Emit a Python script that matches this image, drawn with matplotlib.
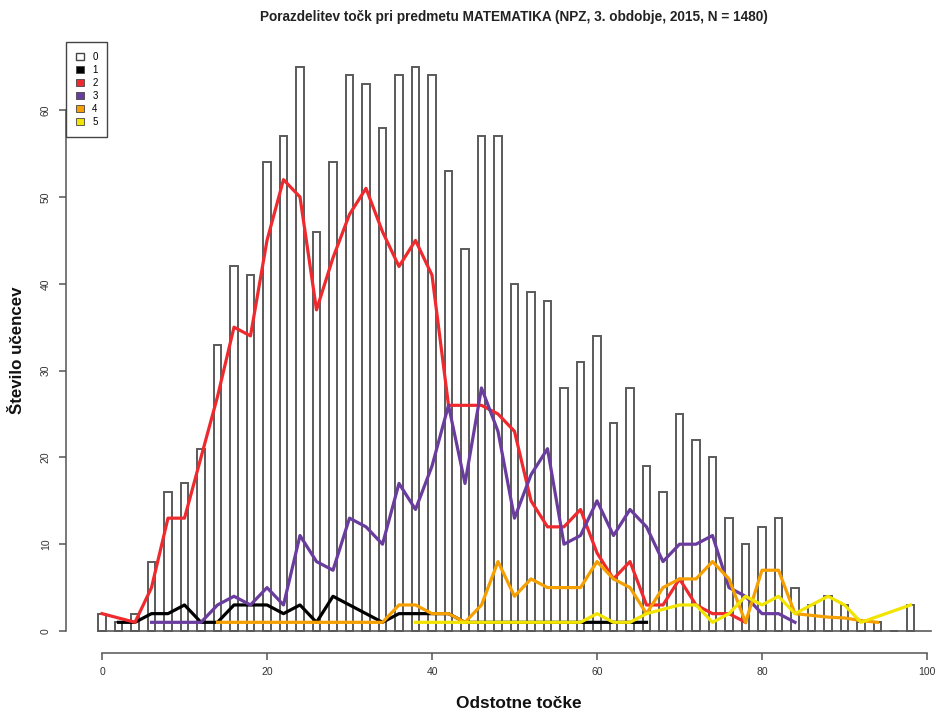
import matplotlib
matplotlib.use("Agg")
import matplotlib.pyplot as plt
from matplotlib.patches import Patch

# Score in percent (bar positions) and number of pupils per score
score_pct = [0, 2, 4, 6, 8, 10, 12, 14, 16, 18, 20, 22, 24, 26, 28, 30, 32, 34, 36, 38,
             40, 42, 44, 46, 48, 50, 52, 54, 56, 58, 60, 62, 64, 66, 68, 70, 72, 74, 76, 78,
             80, 82, 84, 86, 88, 90, 92, 94, 96, 98]
pupils_all = [2, 1, 2, 8, 16, 17, 21, 33, 42, 41, 54, 57, 65, 46, 54, 64, 63, 58, 64, 65,
              64, 53, 44, 57, 57, 40, 39, 38, 28, 31, 34, 24, 28, 19, 16, 25, 22, 20, 13, 10,
              12, 13, 5, 3, 4, 3, 1, 1, 0, 3]

# Pupils per score, by final grade
grade1_x = [2, 4, 6, 8, 10, 12, 14, 16, 18, 20, 22, 24, 26, 28, 30, 32, 34, 36, 38, 40,
            42, 44, 46, 48, 50, 52, 54, 56, 58, 60, 62, 64, 66]
grade1_y = [1, 1, 2, 2, 3, 1, 1, 3, 3, 3, 2, 3, 1, 4, 3, 2, 1, 2, 2, 2,
            2, 1, 1, 1, 1, 1, 1, 1, 1, 1, 1, 1, 1]

grade2_x = [0, 2, 4, 6, 8, 10, 12, 14, 16, 18, 20, 22, 24, 26, 28, 30, 32, 34, 36, 38,
            40, 42, 44, 46, 48, 50, 52, 54, 56, 58, 60, 62, 64, 66, 68, 70, 72, 74, 76, 78]
grade2_y = [2, 1.5, 1, 5, 13, 13, 20, 27, 35, 34, 45, 52, 50, 37, 43, 48, 51, 46, 42, 45,
            41, 26, 26, 26, 25, 23, 15, 12, 12, 14, 9, 6, 8, 3, 3, 6, 3, 2, 2, 1]

grade3_x = [6, 8, 10, 12, 14, 16, 18, 20, 22, 24, 26, 28, 30, 32, 34, 36, 38, 40, 42, 44,
            46, 48, 50, 52, 54, 56, 58, 60, 62, 64, 66, 68, 70, 72, 74, 76, 78, 80, 82, 84]
grade3_y = [1, 1, 1, 1, 3, 4, 3, 5, 3, 11, 8, 7, 13, 12, 10, 17, 14, 19, 26, 17,
            28, 23, 13, 18, 21, 10, 11, 15, 11, 14, 12, 8, 10, 10, 11, 5, 4, 2, 2, 1]

grade4_x = [14, 16, 18, 20, 22, 24, 26, 28, 30, 32, 34, 36, 38, 40, 42, 44, 46, 48, 50, 52,
            54, 56, 58, 60, 62, 64, 66, 68, 70, 72, 74, 76, 78, 80, 82, 84, 86, 88, 90, 92, 94]
grade4_y = [1, 1, 1, 1, 1, 1, 1, 1, 1, 1, 1, 3, 3, 2, 2, 1, 3, 8, 4, 6,
            5, 5, 5, 8, 6, 5, 2, 5, 6, 6, 8, 6, 1, 7, 7, 2, 1.8, 1.6, 1.5, 1.2, 1]

grade5_x = [38, 40, 42, 44, 46, 48, 50, 52, 54, 56, 58, 60, 62, 64, 66, 68, 70, 72, 74, 76,
            78, 80, 82, 84, 86, 88, 90, 92, 98]
grade5_y = [1, 1, 1, 1, 1, 1, 1, 1, 1, 1, 1, 2, 1, 1, 2, 2.5, 3, 3, 1, 2,
            4, 3, 4, 2, 3, 4, 3, 1, 3]

legend_labels = ["0", "1", "2", "3", "4", "5"]
grade_colors = ["#000000", "#EE2A2E", "#6A3C9E", "#F5A000", "#F2E400"]

BAR_EDGE = "#5a5a5a"
AXIS_COL = "#555555"

W, H = 936, 709
fig = plt.figure(figsize=(W / 100, H / 100), dpi=100)

# axes box placed so that x: 0 -> 102 px, 8.25 px per unit; y: 0 -> 631 px, 8.68 px per unit
x0_px, xs = 102.0, 8.25
y0_px, ys = 631.0, 8.68
xlo, xhi = -5.0, 101.5
ylo, yhi = -1.0, 67.0
left = (x0_px + xlo * xs) / W
width = (xhi - xlo) * xs / W
bottom = (H - (y0_px - ylo * ys)) / H
height = (yhi - ylo) * ys / H
ax = fig.add_axes([left, bottom, width, height])
ax.set_xlim(xlo, xhi)
ax.set_ylim(ylo, yhi)
ax.patch.set_alpha(0)

ax.bar(score_pct, pupils_all, width=0.95, facecolor="white", edgecolor=BAR_EDGE,
       linewidth=1.4, zorder=1)
ax.plot([-0.5, 100.5], [0, 0], color=BAR_EDGE, linewidth=1.2, zorder=1.5)

series = [(grade1_x, grade1_y), (grade2_x, grade2_y), (grade3_x, grade3_y),
          (grade4_x, grade4_y), (grade5_x, grade5_y)]
for (sx, sy), col in zip(series, grade_colors):
    ax.plot(sx, sy, color=col, linewidth=2.3, solid_joinstyle="round", zorder=3)

# R-style detached axes
for s in ["top", "right"]:
    ax.spines[s].set_visible(False)
ax.spines["bottom"].set_position(("data", (y0_px - 653) / ys))
ax.spines["bottom"].set_bounds(0, 100)
ax.spines["left"].set_position(("data", (66 - x0_px) / xs))
ax.spines["left"].set_bounds(0, 60)
for s in ["bottom", "left"]:
    ax.spines[s].set_color(AXIS_COL)
    ax.spines[s].set_linewidth(1.1)

tick_font = {"family": ["Liberation Sans Narrow", "Liberation Sans", "DejaVu Sans"], "size": 7.5}
ax.set_xticks([0, 20, 40, 60, 80, 100])
ax.set_xticklabels(["0", "20", "40", "60", "80", "100"], fontdict=tick_font, color="#333333")
ax.set_yticks([0, 10, 20, 30, 40, 50, 60])
ax.set_yticklabels(["0", "10", "20", "30", "40", "50", "60"], fontdict=tick_font,
                   color="#333333", rotation=90, va="center")
ax.tick_params(axis="both", length=5, width=1.1, color=AXIS_COL)
ax.tick_params(axis="x", pad=5)
ax.tick_params(axis="y", pad=6)

bold = ["Liberation Sans", "DejaVu Sans"]
fig.text(514 / W, 1 - 17 / H,
         "Porazdelitev točk pri predmetu MATEMATIKA (NPZ, 3. obdobje, 2015, N = 1480)",
         ha="center", va="center", fontsize=9.8, fontweight="bold", family=bold, color="#222222")
fig.text(519 / W, 1 - 703 / H, "Odstotne točke", ha="center", va="center",
         fontsize=12.4, fontweight="bold", family=bold, color="#111111")
fig.text(18 / W, 1 - 350 / H, "Število učencev", ha="center", va="center", rotation=90,
         fontsize=12.2, fontweight="bold", family=bold, color="#111111")

handles = [Patch(facecolor="white", edgecolor="#444444", linewidth=1.0)]
handles += [Patch(facecolor=c, edgecolor="#444444", linewidth=0.6) for c in grade_colors]
leg = ax.legend(handles, legend_labels, loc="upper left",
                bbox_to_anchor=(66 / W, 1 - 42 / H), bbox_transform=fig.transFigure,
                borderaxespad=0, fancybox=False, framealpha=1, edgecolor="#444444",
                prop={"family": tick_font["family"], "size": 7},
                handlelength=0.9, handleheight=0.7, handletextpad=0.8,
                labelspacing=0.32, borderpad=1.0)
leg.get_frame().set_linewidth(1.0)
leg.set_zorder(5)

fig.savefig("out.png", dpi=100)
